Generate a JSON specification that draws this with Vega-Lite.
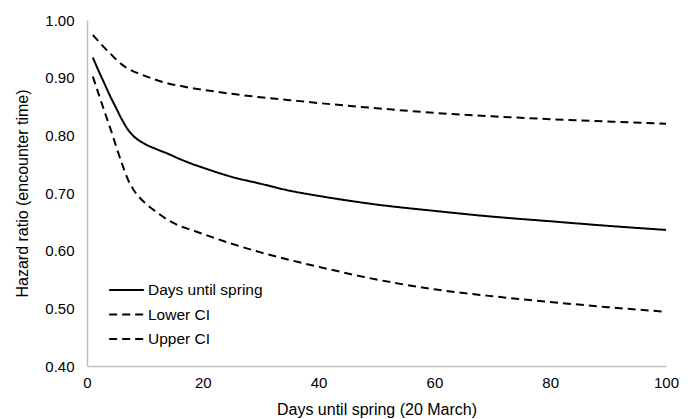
{
  "$schema": "https://vega.github.io/schema/vega-lite/v6.json",
  "width": 579,
  "height": 346,
  "autosize": {"type": "none"},
  "padding": {"left": 87, "top": 20, "right": 26, "bottom": 53},
  "background": "white",
  "config": {
    "view": {"stroke": null},
    "font": "Liberation Sans",
    "axis": {"labelFont": "Liberation Sans", "titleFont": "Liberation Sans", "labelFontSize": 15, "titleFontSize": 16, "labelColor": "#000000", "titleColor": "#000000", "titleFontWeight": "normal", "grid": false, "ticks": false, "labelFlush": false, "domainColor": "#bfbfbf", "domainWidth": 1.5}
  },
  "data": {"values": [
    {"day": 1, "series": "Days until spring", "hr": 0.935},
    {"day": 2, "series": "Days until spring", "hr": 0.912},
    {"day": 3, "series": "Days until spring", "hr": 0.890},
    {"day": 4, "series": "Days until spring", "hr": 0.868},
    {"day": 5, "series": "Days until spring", "hr": 0.848},
    {"day": 6, "series": "Days until spring", "hr": 0.828},
    {"day": 7, "series": "Days until spring", "hr": 0.811},
    {"day": 8, "series": "Days until spring", "hr": 0.799},
    {"day": 9, "series": "Days until spring", "hr": 0.791},
    {"day": 10, "series": "Days until spring", "hr": 0.785},
    {"day": 12, "series": "Days until spring", "hr": 0.776},
    {"day": 14, "series": "Days until spring", "hr": 0.768},
    {"day": 16, "series": "Days until spring", "hr": 0.759},
    {"day": 18, "series": "Days until spring", "hr": 0.751},
    {"day": 20, "series": "Days until spring", "hr": 0.744},
    {"day": 25, "series": "Days until spring", "hr": 0.728},
    {"day": 30, "series": "Days until spring", "hr": 0.716},
    {"day": 35, "series": "Days until spring", "hr": 0.704},
    {"day": 40, "series": "Days until spring", "hr": 0.695},
    {"day": 50, "series": "Days until spring", "hr": 0.680},
    {"day": 60, "series": "Days until spring", "hr": 0.669},
    {"day": 70, "series": "Days until spring", "hr": 0.659},
    {"day": 80, "series": "Days until spring", "hr": 0.651},
    {"day": 90, "series": "Days until spring", "hr": 0.643},
    {"day": 100, "series": "Days until spring", "hr": 0.636},
    {"day": 1, "series": "Lower CI", "hr": 0.902},
    {"day": 2, "series": "Lower CI", "hr": 0.872},
    {"day": 3, "series": "Lower CI", "hr": 0.842},
    {"day": 4, "series": "Lower CI", "hr": 0.813},
    {"day": 5, "series": "Lower CI", "hr": 0.782},
    {"day": 6, "series": "Lower CI", "hr": 0.752},
    {"day": 7, "series": "Lower CI", "hr": 0.725},
    {"day": 8, "series": "Lower CI", "hr": 0.706},
    {"day": 9, "series": "Lower CI", "hr": 0.693},
    {"day": 10, "series": "Lower CI", "hr": 0.683},
    {"day": 12, "series": "Lower CI", "hr": 0.667},
    {"day": 14, "series": "Lower CI", "hr": 0.653},
    {"day": 16, "series": "Lower CI", "hr": 0.643},
    {"day": 18, "series": "Lower CI", "hr": 0.636},
    {"day": 20, "series": "Lower CI", "hr": 0.629},
    {"day": 25, "series": "Lower CI", "hr": 0.612},
    {"day": 30, "series": "Lower CI", "hr": 0.597},
    {"day": 35, "series": "Lower CI", "hr": 0.584},
    {"day": 40, "series": "Lower CI", "hr": 0.572},
    {"day": 50, "series": "Lower CI", "hr": 0.550},
    {"day": 60, "series": "Lower CI", "hr": 0.533},
    {"day": 70, "series": "Lower CI", "hr": 0.521},
    {"day": 80, "series": "Lower CI", "hr": 0.511},
    {"day": 90, "series": "Lower CI", "hr": 0.502},
    {"day": 100, "series": "Lower CI", "hr": 0.494},
    {"day": 1, "series": "Upper CI", "hr": 0.974},
    {"day": 2, "series": "Upper CI", "hr": 0.963},
    {"day": 3, "series": "Upper CI", "hr": 0.952},
    {"day": 4, "series": "Upper CI", "hr": 0.942},
    {"day": 5, "series": "Upper CI", "hr": 0.932},
    {"day": 6, "series": "Upper CI", "hr": 0.923},
    {"day": 7, "series": "Upper CI", "hr": 0.916},
    {"day": 8, "series": "Upper CI", "hr": 0.911},
    {"day": 9, "series": "Upper CI", "hr": 0.907},
    {"day": 10, "series": "Upper CI", "hr": 0.903},
    {"day": 12, "series": "Upper CI", "hr": 0.896},
    {"day": 14, "series": "Upper CI", "hr": 0.890},
    {"day": 16, "series": "Upper CI", "hr": 0.886},
    {"day": 18, "series": "Upper CI", "hr": 0.882},
    {"day": 20, "series": "Upper CI", "hr": 0.879},
    {"day": 25, "series": "Upper CI", "hr": 0.872},
    {"day": 30, "series": "Upper CI", "hr": 0.866},
    {"day": 35, "series": "Upper CI", "hr": 0.861},
    {"day": 40, "series": "Upper CI", "hr": 0.856},
    {"day": 50, "series": "Upper CI", "hr": 0.847},
    {"day": 60, "series": "Upper CI", "hr": 0.839},
    {"day": 70, "series": "Upper CI", "hr": 0.833},
    {"day": 80, "series": "Upper CI", "hr": 0.828},
    {"day": 90, "series": "Upper CI", "hr": 0.824},
    {"day": 100, "series": "Upper CI", "hr": 0.820}
  ]},
  "mark": {"type": "line", "interpolate": "monotone", "strokeWidth": 2, "color": "#000000"},
  "encoding": {
    "x": {"field": "day", "type": "quantitative", "scale": {"domain": [0, 100], "nice": false}, "axis": {"values": [0, 20, 40, 60, 80, 100], "title": "Days until spring (20 March)", "labelPadding": 9, "titlePadding": 11}},
    "y": {"field": "hr", "type": "quantitative", "scale": {"domain": [0.4, 1.0], "nice": false, "zero": false}, "axis": {"values": [0.4, 0.5, 0.6, 0.7, 0.8, 0.9, 1.0], "format": ".2f", "title": "Hazard ratio (encounter time)", "labelPadding": 13, "titlePadding": 14}},
    "detail": {"field": "series"},
    "strokeDash": {"field": "series", "type": "nominal", "scale": {"domain": ["Days until spring", "Lower CI", "Upper CI"], "range": [[1, 0], [8, 5], [8, 5]]}, "legend": {"title": null, "orient": "none", "legendX": 21, "legendY": 262, "symbolType": "stroke", "symbolSize": 1200, "clipHeight": 16, "symbolStrokeWidth": 2, "symbolStrokeColor": "#000000", "labelFontSize": 15.5, "labelFont": "Liberation Sans", "labelColor": "#000000", "rowPadding": 7.5, "labelOffset": 3, "encode": {"symbols": {"update": {"strokeDash": {"signal": "datum.value === 'Days until spring' ? [1, 0] : [5, 4.5]"}}}}}}
  }
}
